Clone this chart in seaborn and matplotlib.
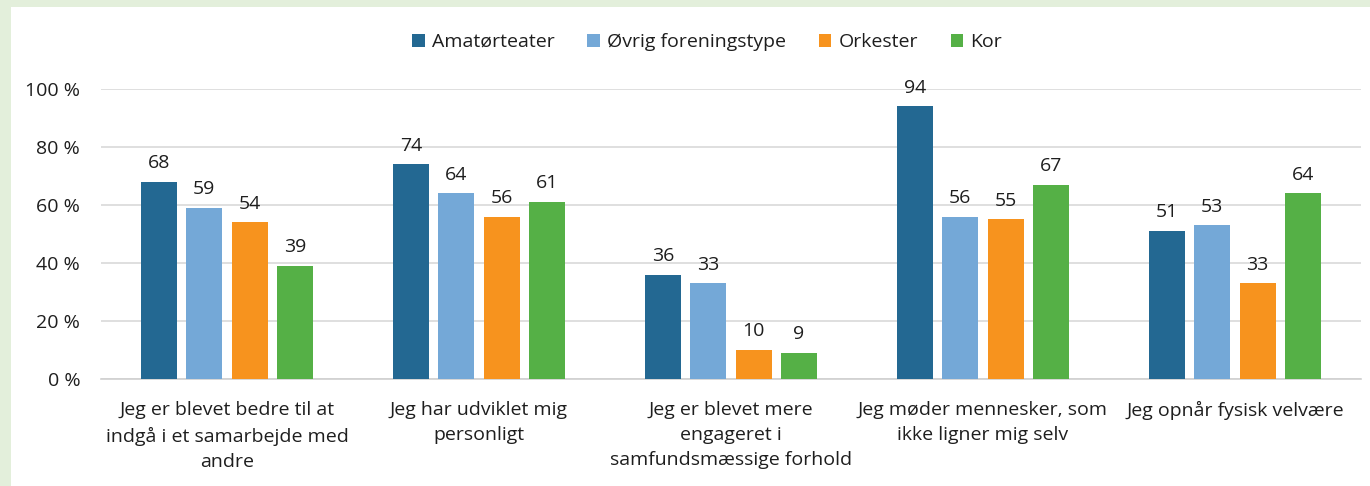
import pandas as pd
import matplotlib.pyplot as plt
import matplotlib.ticker as mtick
from matplotlib.patches import Rectangle
import seaborn as sns

# ── data ──────────────────────────────────────────────
categories = [
    "Jeg er blevet bedre til at\nindgå i et samarbejde med\nandre",
    "Jeg har udviklet mig\npersonligt",
    "Jeg er blevet mere\nengageret i\nsamfundsmæssige forhold",
    "Jeg møder mennesker, som\nikke ligner mig selv",
    "Jeg opnår fysisk velvære",
]
groups = ["Amatørteater", "Øvrig foreningstype", "Orkester", "Kor"]
amatoerteater = [68, 74, 36, 94, 51]
oevrig = [59, 64, 33, 56, 53]
orkester = [54, 56, 10, 55, 33]
kor = [39, 61, 9, 67, 64]

COLORS = ["#236892", "#74a8d7", "#f7931e", "#55b046"]

df = pd.DataFrame({
    "Kategori": categories * 4,
    "Gruppe": [g for g in groups for _ in categories],
    "Andel": amatoerteater + oevrig + orkester + kor,
})

sns.set_theme(style="white")
plt.rcParams["font.family"] = ["Open Sans", "DejaVu Sans"]
TXT = "#1e1e1e"
FS = 14

fig = plt.figure(figsize=(13.7, 4.86), dpi=100, facecolor="#e3efdb")
fig.patches.append(Rectangle((11 / 1370, 0), 1, 479 / 486, transform=fig.transFigure,
                             facecolor="white", edgecolor="none", zorder=-10))
ax = fig.add_axes([101 / 1370, 1 - 379 / 486, 1260 / 1370, 290 / 486])
ax.set_facecolor("none")

sns.barplot(data=df, x="Kategori", y="Andel", hue="Gruppe", hue_order=groups,
            palette=COLORS, saturation=1, width=0.72, gap=0.2, linewidth=0,
            ax=ax, zorder=3)

for cont in ax.containers:
    ax.bar_label(cont, fmt="%d", padding=7, fontsize=FS, color=TXT)

ax.set_ylim(0, 100)
ax.set_xlim(-0.5, 4.5)
ax.yaxis.set_major_locator(mtick.MultipleLocator(20))
ax.yaxis.set_major_formatter(mtick.FuncFormatter(lambda v, _: f"{v:.0f} %"))
ax.grid(axis="y", color="#d9d9d9", lw=1.2, zorder=0)
ax.set_axisbelow(True)
for s in ["top", "right", "left"]:
    ax.spines[s].set_visible(False)
ax.spines["bottom"].set_color("#d0d0d0")
ax.spines["bottom"].set_linewidth(1.2)
ax.tick_params(axis="both", length=0, labelsize=FS, colors=TXT)
ax.tick_params(axis="y", pad=15)
ax.tick_params(axis="x", pad=16)
for lbl in ax.get_xticklabels():
    lbl.set_linespacing(1.5)
ax.set_xlabel("")
ax.set_ylabel("")

sns.move_legend(ax, "center", bbox_to_anchor=(0.481, 1.162), ncol=4, frameon=False,
                title=None, fontsize=FS, handlelength=0.65, handleheight=0.65,
                handletextpad=0.35, columnspacing=1.7)
for t in ax.get_legend().get_texts():
    t.set_color(TXT)

plt.savefig("out.png", dpi=100, facecolor=fig.get_facecolor())
